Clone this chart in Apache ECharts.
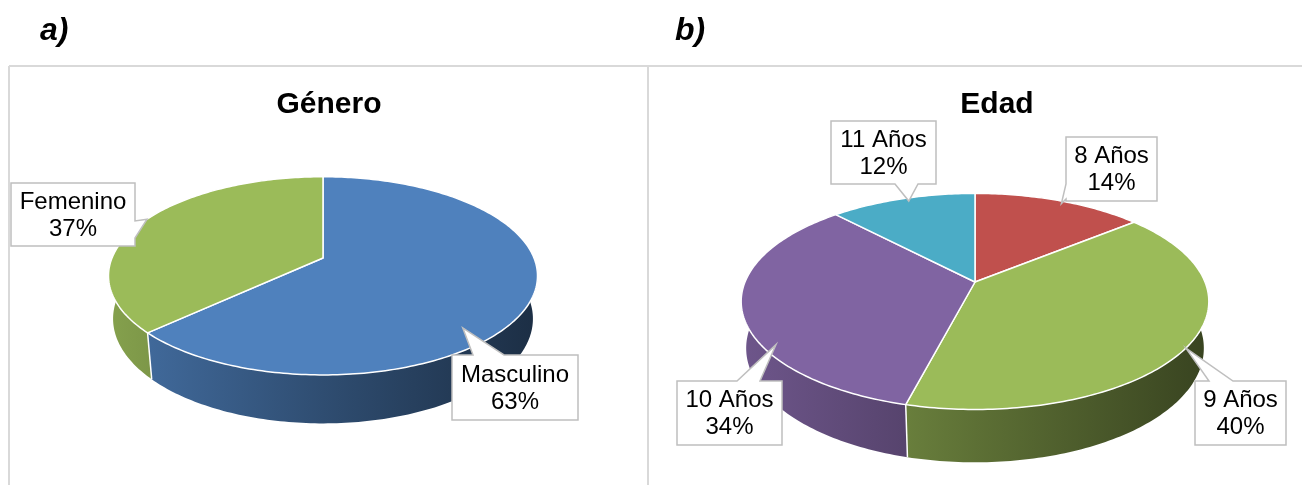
<!DOCTYPE html>
<html>
<head>
<meta charset="utf-8">
<script src="https://cdn.jsdelivr.net/npm/echarts@6/dist/echarts.min.js"></script>
<style>
  html, body { margin: 0; padding: 0; background: #ffffff; }
  #chart { width: 1302px; height: 485px; }
</style>
</head>
<body>
<div id="chart"></div>
<script>
// ---- data ----
const generoNames = ['Masculino', 'Femenino'];
const generoValues = [63, 37];
const edadNames = ['8 Años', '9 Años', '10 Años', '11 Años'];
const edadValues = [14, 40, 34, 12];

const generoColors = ['#4F81BD', '#9BBB59'];
const edadColors = ['#C0504D', '#9BBB59', '#8064A2', '#4BACC6'];

// ---- 3D view of a pie disc (perspective camera looking down) ----
const TILT = Math.asin(0.4545);   // camera elevation
const DIST = 4.95;                // camera distance, in pie radii
const THICK = 0.23;               // disc thickness, in pie radii

const generoView = { cx: 323, cy: 258, scale: 211 };
const edadView = { cx: 975, cy: 282, scale: 230 };

// callout boxes: [x, y, w, h], side carrying the pointer, pointer base, tip (angle clockwise from 12, radius)
const generoLabelLayout = [
  { box: [452, 355, 126, 65], side: 'top', base: [473, 504], tip: [137.7, 0.87] },
  { box: [11, 183, 124, 63], side: 'right', base: [221, 238], tip: [295.9, 1.0] }
];
const edadLabelLayout = [
  { box: [1066, 137, 91, 64], side: 'left', base: [184, 199], tip: [26.6, 0.97] },
  { box: [1195, 381, 91, 64], side: 'top', base: [1209, 1233], tip: [124.6, 1.0] },
  { box: [677, 381, 105, 64], side: 'top', base: [737, 760], tip: [235.3, 0.95] },
  { box: [831, 121, 105, 63], side: 'bottom', base: [895, 918], tip: [339.6, 0.96] }
];

function project(view, ang, r, y) {
  const phi = (ang - 90) * Math.PI / 180;
  const X = r * Math.cos(phi), Z = r * Math.sin(phi);
  const sa = Math.sin(TILT), ca = Math.cos(TILT);
  const d = DIST - y * sa - Z * ca;
  const yc = -y * ca + Z * sa;
  const F = view.scale * DIST;
  return [view.cx + F * X / d, view.cy + F * yc / d];
}

function arc(view, from, to, r, y) {
  const n = Math.max(2, Math.ceil(Math.abs(to - from)));
  const pts = [];
  for (let k = 0; k <= n; k++) {
    pts.push(project(view, from + (to - from) * k / n, r, y));
  }
  return pts;
}

function shade(hex, f) {
  const n = parseInt(hex.slice(1), 16);
  const r = Math.round(((n >> 16) & 255) * f);
  const g = Math.round(((n >> 8) & 255) * f);
  const b = Math.round((n & 255) * f);
  return 'rgb(' + r + ',' + g + ',' + b + ')';
}

function wallGradient(view, color) {
  const x0 = view.cx - view.scale * 1.02, x1 = view.cx + view.scale * 1.02;
  return new echarts.graphic.LinearGradient(x0, 0, x1, 0, [
    { offset: 0, color: shade(color, 0.86) },
    { offset: 0.5, color: shade(color, 0.6) },
    { offset: 1, color: shade(color, 0.36) }
  ], true);
}

function calloutPoints(lay, tip) {
  const [x, y, w, h] = lay.box;
  const [b1, b2] = lay.base;
  const pts = [[x, y]];
  if (lay.side === 'top') pts.push([b1, y], tip, [b2, y]);
  pts.push([x + w, y]);
  if (lay.side === 'right') pts.push([x + w, b1], tip, [x + w, b2]);
  pts.push([x + w, y + h]);
  if (lay.side === 'bottom') pts.push([b2, y + h], tip, [b1, y + h]);
  pts.push([x, y + h]);
  if (lay.side === 'left') pts.push([x, b2], tip, [x, b1]);
  return pts;
}

function buildData(values) {
  const total = values.reduce((s, v) => s + v, 0);
  let cum = 0;
  return values.map(v => {
    const a0 = cum / total * 360;
    cum += v;
    return [v, a0, cum / total * 360];
  });
}

function pieRenderer(view, names, colors, layout) {
  return function (params, api) {
    const i = params.dataIndex;
    const value = api.value(0), a0 = api.value(1), a1 = api.value(2);
    const children = [];

    // outer wall, front half only
    const lo = Math.max(a0, 90), hi = Math.min(a1, 270);
    if (hi > lo) {
      const pts = arc(view, lo, hi, 1, 0).concat(arc(view, hi, lo, 1, -THICK));
      children.push({
        type: 'polygon', z2: 1, shape: { points: pts },
        style: { fill: wallGradient(view, colors[i]) }
      });
    }
    if (a0 > 90 && a0 < 270) {
      const p = project(view, a0, 1, 0), q = project(view, a0, 1, -THICK);
      children.push({
        type: 'line', z2: 2, shape: { x1: p[0], y1: p[1], x2: q[0], y2: q[1] },
        style: { stroke: '#ffffff', lineWidth: 1.5 }
      });
    }

    // top face
    const top = [[view.cx, view.cy]].concat(arc(view, a0, a1, 1, 0));
    children.push({
      type: 'polygon', z2: 10, shape: { points: top },
      style: { fill: colors[i], stroke: '#ffffff', lineWidth: 1.5, lineJoin: 'round' }
    });

    // callout label
    const lay = layout[i];
    const tip = project(view, lay.tip[0], lay.tip[1], 0);
    children.push({
      type: 'polygon', z2: 20, shape: { points: calloutPoints(lay, tip) },
      style: { fill: '#ffffff', stroke: '#BFBFBF', lineWidth: 1.5, lineJoin: 'miter' }
    });
    const [bx, by, bw, bh] = lay.box;
    children.push({
      type: 'text', z2: 21,
      style: {
        text: names[i] + '\n' + value + '%',
        x: bx + bw / 2, y: by + bh / 2 + 1,
        align: 'center', verticalAlign: 'middle',
        font: '24px "Liberation Sans", Arial, sans-serif',
        lineHeight: 27, fill: '#000000'
      }
    });
    return { type: 'group', children: children };
  };
}

const chart = echarts.init(document.getElementById('chart'), null, { renderer: 'canvas' });

const borderStyle = { stroke: '#D9D9D9', lineWidth: 2 };
chart.setOption({
  animation: false,
  backgroundColor: '#ffffff',
  graphic: [
    { type: 'line', shape: { x1: 9, y1: 66, x2: 1302, y2: 66 }, style: borderStyle },
    { type: 'line', shape: { x1: 9, y1: 66, x2: 9, y2: 485 }, style: borderStyle },
    { type: 'line', shape: { x1: 648, y1: 66, x2: 648, y2: 485 }, style: borderStyle },
    {
      type: 'text', x: 40, y: 31,
      style: { text: 'a)', font: 'italic bold 32px "Liberation Sans", Arial, sans-serif', fill: '#000', verticalAlign: 'middle' }
    },
    {
      type: 'text', x: 675, y: 31,
      style: { text: 'b)', font: 'italic bold 32px "Liberation Sans", Arial, sans-serif', fill: '#000', verticalAlign: 'middle' }
    },
    {
      type: 'text', x: 329, y: 105,
      style: { text: 'Género', font: 'bold 30px "Liberation Sans", Arial, sans-serif', fill: '#000', align: 'center', verticalAlign: 'middle' }
    },
    {
      type: 'text', x: 997, y: 105,
      style: { text: 'Edad', font: 'bold 30px "Liberation Sans", Arial, sans-serif', fill: '#000', align: 'center', verticalAlign: 'middle' }
    }
  ],
  series: [
    {
      type: 'custom', name: 'Género', coordinateSystem: 'none', silent: true,
      data: buildData(generoValues),
      renderItem: pieRenderer(generoView, generoNames, generoColors, generoLabelLayout)
    },
    {
      type: 'custom', name: 'Edad', coordinateSystem: 'none', silent: true,
      data: buildData(edadValues),
      renderItem: pieRenderer(edadView, edadNames, edadColors, edadLabelLayout)
    }
  ]
});
</script>
</body>
</html>
